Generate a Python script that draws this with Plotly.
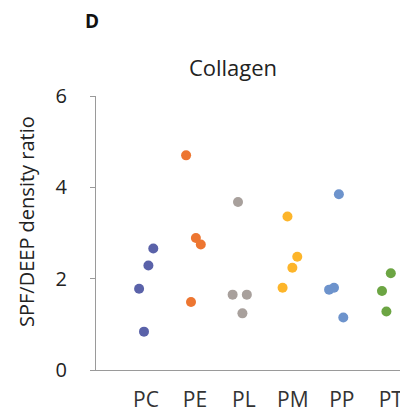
import plotly.graph_objects as go

categories = ["PC", "PE", "PL", "PM", "PP", "PT"]
colors = ["#5A62A9", "#ED7631", "#A8A09C", "#FDB52A", "#6D93CC", "#6CA543"]

values = {
    "PC": [2.66, 2.29, 1.78, 0.84],
    "PE": [4.70, 2.89, 2.75, 1.49],
    "PL": [3.68, 1.65, 1.65, 1.24],
    "PM": [3.36, 2.48, 2.24, 1.80],
    "PP": [3.85, 1.76, 1.80, 1.15],
    "PT": [2.12, 1.73, 1.28],
}
jitter = {
    "PC": [0.15, 0.05, -0.14, -0.04],
    "PE": [-0.18, 0.02, 0.12, -0.08],
    "PL": [-0.12, -0.23, 0.06, -0.03],
    "PM": [-0.11, 0.09, -0.01, -0.21],
    "PP": [-0.06, -0.26, -0.16, 0.03],
    "PT": [0.0, -0.18, -0.09],
}
y_ticks = [0, 2, 4, 6]

FONT = "Open Sans"
fig = go.Figure()
for i, (cat, col) in enumerate(zip(categories, colors)):
    fig.add_trace(go.Scatter(
        x=[i + j for j in jitter[cat]], y=values[cat], mode="markers",
        marker=dict(size=10, color=col, line=dict(width=0)),
        name=cat, showlegend=False, cliponaxis=False,
    ))

# page has an 8px body margin; figure is sized so the plot lands where the reference has it
W, H = 400, 408
L, R, T, B = 88, 3, 88, 46
pw, ph = W - L - R, H - T - B
px0, py_bottom = 8 + L, 8 + H - B  # plot-area left / bottom in page pixels


def paper_x(px):
    return (px - px0) / pw


def paper_y(py):
    return (py_bottom - py) / ph


fig.update_layout(
    width=W, height=H,
    margin=dict(l=L, r=R, t=T, b=B),
    paper_bgcolor="white", plot_bgcolor="white",
    font=dict(family=FONT, color="#222222", size=20),
    xaxis=dict(
        range=[-1.02, 5.29], tickvals=list(range(len(categories))), ticktext=categories,
        showgrid=False, zeroline=False, showline=True, linecolor="#9a9a9a", linewidth=1,
        ticks="", ticklabelstandoff=11, tickfont=dict(size=21, color="#333333"),
    ),
    yaxis=dict(
        range=[0, 6], tickvals=y_ticks, showgrid=False, zeroline=False,
        showline=True, linecolor="#9a9a9a", linewidth=1,
        ticks="outside", ticklen=5, tickcolor="#9a9a9a",
        ticklabelstandoff=19, tickfont=dict(size=20, color="#222222"),
    ),
    annotations=[
        dict(text="<b>D</b>", x=paper_x(92), y=paper_y(21), xref="paper", yref="paper",
             xanchor="center", yanchor="middle", showarrow=False, height=20, valign="middle",
             font=dict(size=19, color="#111111")),
        dict(text="SPF/DEEP density ratio", x=paper_x(26), y=paper_y(222), xref="paper", yref="paper",
             xanchor="center", yanchor="middle", textangle=-90, showarrow=False,
             font=dict(size=20, color="#222222")),
    ],
    title=dict(text="Collagen", x=(233 - 8) / W, xanchor="center", y=1 - (68 - 8) / H, yanchor="middle",
               font=dict(size=22, color="#222222")),
)

fig.write_html("out.html")
